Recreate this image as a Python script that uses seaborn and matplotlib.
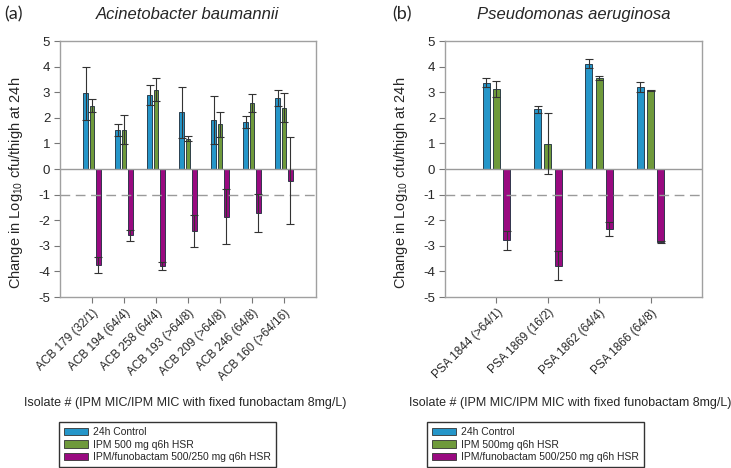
import matplotlib
matplotlib.use("Agg")
import matplotlib.pyplot as plt
from matplotlib.patches import Patch
import seaborn as sns
import pandas as pd

# panel (a) Acinetobacter baumannii
acb_isolates = ["ACB 179 (32/1)", "ACB 194 (64/4)", "ACB 258 (64/4)", "ACB 193 (>64/8)",
                "ACB 209 (>64/8)", "ACB 246 (64/8)", "ACB 160 (>64/16)"]
acb_control = [2.95, 1.52, 2.89, 2.21, 1.91, 1.84, 2.79]
acb_control_sd = [1.03, 0.25, 0.40, 1.00, 0.93, 0.23, 0.31]
acb_ipm = [2.48, 1.54, 3.09, 1.18, 1.74, 2.59, 2.40]
acb_ipm_sd = [0.24, 0.57, 0.45, 0.10, 0.48, 0.35, 0.57]
acb_combo = [-3.75, -2.59, -3.78, -2.41, -1.86, -1.73, -0.46]
acb_combo_sd = [0.30, 0.22, 0.16, 0.62, 1.07, 0.75, 1.70]

# panel (b) Pseudomonas aeruginosa
psa_isolates = ["PSA 1844 (>64/1)", "PSA 1869 (16/2)", "PSA 1862 (64/4)", "PSA 1866 (64/8)"]
psa_control = [3.37, 2.33, 4.12, 3.19]
psa_control_sd = [0.18, 0.13, 0.16, 0.20]
psa_ipm = [3.12, 0.99, 3.55, 3.07]
psa_ipm_sd = [0.32, 1.19, 0.08, 0.02]
psa_combo = [-2.79, -3.77, -2.34, -2.84]
psa_combo_sd = [0.38, 0.57, 0.26, 0.04]

regimens = ["24h Control", "IPM 500 mg q6h HSR", "IPM/funobactam 500/250 mg q6h HSR"]
legend_a = ["24h Control", "IPM 500 mg q6h HSR", "IPM/funobactam 500/250 mg q6h HSR"]
legend_b = ["24h Control", "IPM 500mg q6h HSR", "IPM/funobactam 500/250 mg q6h HSR"]
colors = ["#2596c9", "#6f9a3b", "#990a80"]

sns.set_style("white")
plt.rcParams["font.family"] = ["Liberation Sans", "DejaVu Sans"]
plt.rcParams["mathtext.fontset"] = "custom"
plt.rcParams["mathtext.rm"] = "Liberation Sans"


def long_frame(isolates, series):
    rows = []
    for reg, vals in zip(regimens, series):
        for iso, v in zip(isolates, vals):
            rows.append({"isolate": iso, "regimen": reg, "value": v})
    return pd.DataFrame(rows)


def draw_panel(ax, isolates, series, errs, title, legend_labels, leg_x):
    df = long_frame(isolates, series)
    sns.barplot(data=df, x="isolate", y="value", hue="regimen", hue_order=regimens,
                palette=colors, width=0.6, gap=0.33, errorbar=None, legend=False,
                edgecolor="#1a2a3a", linewidth=0.6, saturation=1, ax=ax)
    for cont, vals, sd in zip(ax.containers, series, errs):
        xs = [p.get_x() + p.get_width() / 2 for p in cont]
        ax.errorbar(xs, vals, yerr=sd, fmt="none", ecolor="#333333",
                    elinewidth=0.8, capsize=2.6, capthick=0.8, zorder=5)
    n = len(isolates)
    ax.set_xlim(-1, n)
    ax.set_ylim(-5, 5)
    ax.set_yticks(range(-5, 6))
    ax.set_yticklabels([str(v) for v in range(-5, 6)], fontsize=9.5)
    ax.axhline(0, color="#9a9a9a", lw=1, zorder=1)
    ax.axhline(-1, color="#9a9a9a", lw=1, ls=(0, (7, 4)), zorder=1)
    ax.set_xticks(range(n))
    ax.set_xticklabels(isolates, rotation=45, ha="right", rotation_mode="anchor", fontsize=8.5)
    ax.tick_params(axis="both", direction="out", length=4, color="#777777", width=0.8,
                   bottom=True, left=True, pad=3)
    for s in ax.spines.values():
        s.set_color("#a0a0a0")
        s.set_linewidth(1)
    ax.set_xlabel("")
    ax.set_ylabel("Change in Log$_{10}$ cfu/thigh at 24h", fontsize=10.5)
    ax.yaxis.set_label_coords(-0.135, 0.445)
    ax.set_title(title, fontsize=12, style="italic", pad=16)
    handles = [Patch(facecolor=c, edgecolor="#333333", lw=0.6) for c in colors]
    fig.legend(handles, legend_labels, loc="upper left", bbox_to_anchor=(leg_x, 1 - 422 / 468),
               frameon=True, fancybox=False, edgecolor="#333333", fontsize=7.5,
               handlelength=2.3, handleheight=0.7, handletextpad=0.5, labelspacing=0.22,
               borderpad=0.5, borderaxespad=0, framealpha=1)


fig = plt.figure(figsize=(7.31, 4.68), dpi=100)
ax1 = fig.add_axes([60 / 731, 1 - 297 / 468, 256 / 731, 256 / 468])
ax2 = fig.add_axes([445 / 731, 1 - 297 / 468, 257 / 731, 256 / 468])

draw_panel(ax1, acb_isolates, [acb_control, acb_ipm, acb_combo],
           [acb_control_sd, acb_ipm_sd, acb_combo_sd],
           "Acinetobacter baumannii", legend_a, 59 / 731)
draw_panel(ax2, psa_isolates, [psa_control, psa_ipm, psa_combo],
           [psa_control_sd, psa_ipm_sd, psa_combo_sd],
           "Pseudomonas aeruginosa", legend_b, 427 / 731)

xlab = "Isolate # (IPM MIC/IPM MIC with fixed funobactam 8mg/L)"
fig.text(185 / 731, 1 - 403 / 468, xlab, ha="center", va="center", fontsize=9)
fig.text(570 / 731, 1 - 403 / 468, xlab, ha="center", va="center", fontsize=9)
fig.text(4 / 731, 1 - 14 / 468, "(a)", ha="left", va="center", fontsize=13,
         family=["Lato", "DejaVu Sans"])
fig.text(392 / 731, 1 - 14 / 468, "(b)", ha="left", va="center", fontsize=13,
         family=["Lato", "DejaVu Sans"])

fig.savefig("out.png", dpi=100)
